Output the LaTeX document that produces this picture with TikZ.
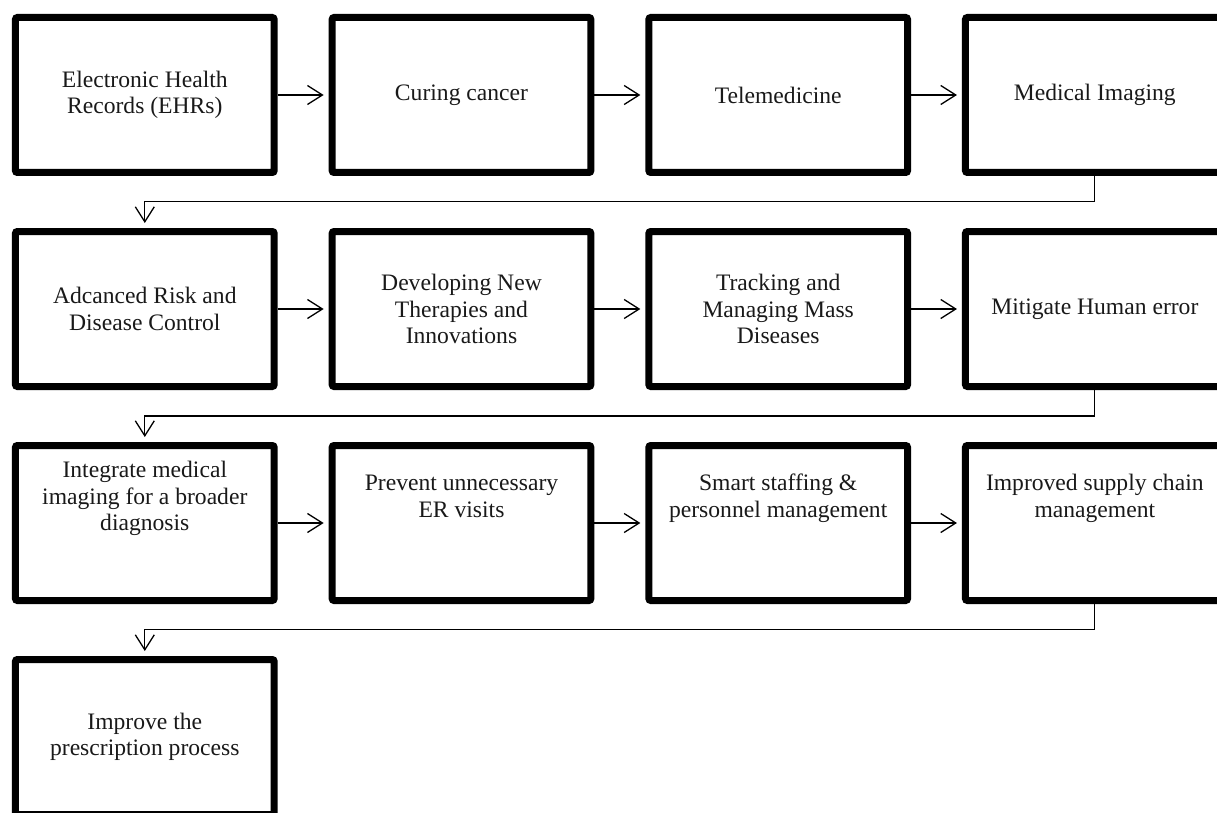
\documentclass[tikz,border=0pt]{standalone}
\usepackage{fontspec}
\setmainfont{Liberation Serif}
\usetikzlibrary{arrows.meta}
\begin{document}
\begin{tikzpicture}[x=1pt,y=-1pt,
  box/.style={draw=black, line width=7pt, rounded corners=2pt, minimum width=258.7pt, minimum height=155pt,
    align=center, inner sep=4pt, font=\fontsize{23.6}{26.6}\selectfont, text=black!90},
  flow/.style={line width=1.3pt, -{Straight Barb[length=15pt,width=19pt,line width=1.3pt]}, shorten >=5pt},
  link/.style={line width=1.3pt}]
\useasboundingbox (0,0) rectangle (1217,813);
% row 1
\node[box] (b1) at (144.8,95) {Electronic Health\\Records (EHRs)};
\node[box] (b2) at (461.5,95) {Curing cancer};
\node[box] (b3) at (778.2,95) {Telemedicine};
\node[box] (b4) at (1094.8,95) {Medical Imaging};
% row 2
\node[box] (b5) at (144.8,309) {Adcanced Risk and\\Disease Control};
\node[box] (b6) at (461.5,309) {Developing New\\Therapies and\\Innovations};
\node[box] (b7) at (778.2,309) {Tracking and\\Managing Mass\\Diseases};
\node[box] (b8) at (1094.8,309) {Mitigate Human error};
% row 3
\node[box] (b9) at (144.8,523) {\raisebox{18pt}[0pt][0pt]{\begin{tabular}{@{}c@{}}Integrate medical\\imaging for a broader\\diagnosis\end{tabular}}};
\node[box] (b10) at (461.5,523) {\raisebox{18pt}[0pt][0pt]{\begin{tabular}{@{}c@{}}Prevent unnecessary\\ER visits\end{tabular}}};
\node[box] (b11) at (778.2,523) {\raisebox{18pt}[0pt][0pt]{\begin{tabular}{@{}c@{}}Smart staffing \&\\personnel management\end{tabular}}};
\node[box] (b12) at (1094.8,523) {\raisebox{18pt}[0pt][0pt]{\begin{tabular}{@{}c@{}}Improved supply chain\\management\end{tabular}}};
% row 4
\node[box] (b13) at (144.8,737) {Improve the\\prescription process};
% horizontal arrows
\foreach \a/\b in {b1/b2,b2/b3,b3/b4,b5/b6,b6/b7,b7/b8,b9/b10,b10/b11,b11/b12}
  \draw[flow] (\a.east) -- (\b.west);
% row connectors
\coordinate (c1) at (1094.8,201.5);
\coordinate (c2) at (1094.8,416);
\coordinate (c3) at (1094.8,629.5);
\draw[flow] (b4.south) -- (c1) -| (b5.north);
\draw[flow] (b8.south) -- (c2) -| (b9.north);
\draw[flow] (b12.south) -- (c3) -| (b13.north);
\end{tikzpicture}
\end{document}
